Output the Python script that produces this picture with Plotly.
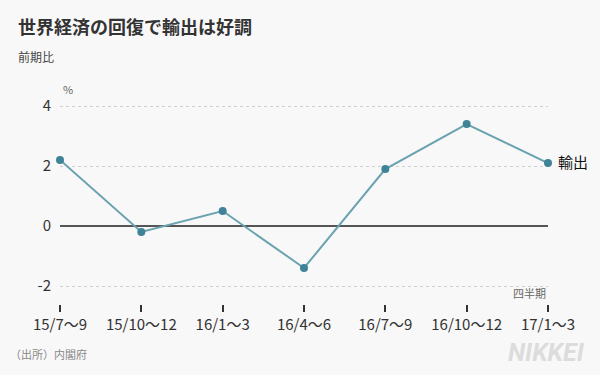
import plotly.graph_objects as go

categories = ["15/7～9", "15/10～12", "16/1～3", "16/4～6", "16/7～9", "16/10～12", "17/1～3"]
exports = [2.2, -0.2, 0.5, -1.4, 1.9, 3.4, 2.1]
y_ticks = [-2, 0, 2, 4]

FONT = "Noto Sans CJK JP"
BG = "#f8f8f8"
L, R, T, B = 60, 52, 88, 71
W, H = 600 - L - R, 375 - T - B

fig = go.Figure()
fig.add_trace(go.Scatter(
    x=list(range(len(categories))), y=exports, mode="lines+markers",
    line=dict(color="#6aa2b0", width=2),
    marker=dict(color="#3e8397", size=8),
    cliponaxis=False, showlegend=False, hoverinfo="skip",
))

fig.update_layout(
    width=600, height=375,
    paper_bgcolor=BG, plot_bgcolor=BG,
    margin=dict(l=L, r=R, t=T, b=B),
    font=dict(family=FONT, color="#333", size=14),
    xaxis=dict(
        range=[0, len(categories) - 1], tickmode="array",
        tickvals=list(range(len(categories))), ticktext=categories,
        showgrid=False, zeroline=False, showline=False,
        ticks="outside", ticklen=7, tickwidth=1.5, tickcolor="#333",
        tickfont=dict(size=15, color="#333"),
    ),
    yaxis=dict(
        range=[-2.6, 4.6], tickmode="array", tickvals=y_ticks,
        ticktext=[str(v) for v in y_ticks],
        showgrid=True, gridcolor="#cfcfcf", griddash="dot", gridwidth=1,
        zeroline=True, zerolinecolor="#555", zerolinewidth=1.5,
        showline=False, ticks="", ticklabelstandoff=8,
        tickfont=dict(size=15, color="#333"),
    ),
)

anns = [
    ("<b>世界経済の回復で輸出は好調</b>", 16, 26, 18, "#333", "left"),
    ("前期比", 16, 56, 12, "#444", "left"),
    ("%", 61, 89, 11, "#666", "left"),
    ("四半期", 548, 293, 11, "#666", "right"),
    ("輸出", 556, 161, 15, "#111", "left"),
    ("（出所）内閣府", 8, 354, 11, "#888", "left"),
]
for t, x, y, s, c, xa in anns:
    fig.add_annotation(text=t, x=(x - L) / W, y=1 - (y - T) / H, xref="paper", yref="paper",
                       showarrow=False, xanchor=xa, yanchor="middle",
                       font=dict(size=s, color=c, family=FONT))
fig.add_annotation(text="<b><i>NIKKEI</i></b>", x=(587 - L) / W, y=1 - (352 - T) / H,
                   xref="paper", yref="paper",
                   showarrow=False, xanchor="right", yanchor="middle",
                   font=dict(size=25, color="#dcdcdc", family="Roboto"))

fig.write_html("out.html", config={"displayModeBar": False},
               post_script="document.body.style.margin='0';document.body.style.background='%s';" % BG)
